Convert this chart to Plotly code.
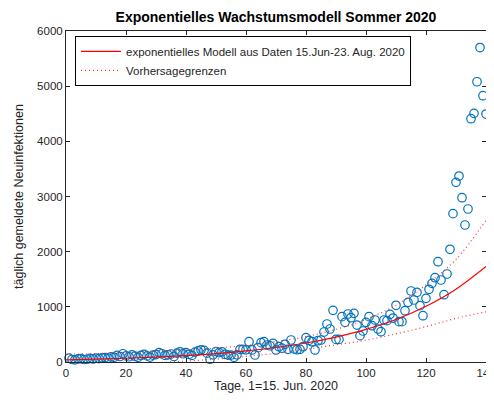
import plotly.graph_objects as go

# ---- data ----
days = list(range(1, 141))
cases = [
    70, 45, 40, 55, 60, 45, 50, 65, 55, 70,
    60, 75, 80, 70, 95, 85, 120, 100, 150, 110,
    95, 130, 105, 85, 120, 140, 110, 90, 125, 135,
    170, 150, 120, 130, 145, 100, 160, 185, 150, 170,
    140, 120, 180, 200, 220, 210, 160, 50, 130, 190,
    170, 185, 140, 125, 125, 85, 130, 230, 230, 220,
    368, 218, 127, 260, 350, 368, 308, 295, 339, 218,
    277, 250, 321, 230, 399, 236, 223, 230, 277, 441,
    393, 368, 218, 386, 399, 544, 689, 598, 937, 410,
    410, 822, 719, 870, 803, 882, 670, 477, 562, 719,
    822, 658, 761, 598, 549, 761, 749, 864, 797, 1028,
    731, 731, 930, 1082, 1287, 1124, 1263, 1021, 839, 1154,
    1318, 1426, 1528, 1818, 1486, 1220, 1595, 2043, 2689, 3257,
    3371, 2978, 2483, 2773, 4410, 4508, 5080, 5700, 4827, 4495,
]

fit_days = [0, 10, 20, 30, 40, 50, 60, 70, 80, 90, 100, 110, 120, 130, 140]
model = [40, 52, 68, 89, 117, 153, 201, 263, 345, 452, 590, 770, 1010, 1320, 1730]
upper = [140, 152, 168, 189, 217, 253, 301, 368, 460, 592, 772, 1030, 1400, 1860, 2570]
lower = [-60, -48, -32, -11, 17, 53, 101, 158, 230, 312, 395, 510, 640, 790, 910]

x_ticks = [0, 20, 40, 60, 80, 100, 120, 140]
y_ticks = [0, 1000, 2000, 3000, 4000, 5000, 6000]

title_text = "Exponentielles Wachstumsmodell Sommer 2020"
x_label = "Tage, 1=15. Jun. 2020"
y_label = "täglich gemeldete Neuinfektionen"
name_model = "exponentielles Modell aus Daten 15.Jun-23. Aug. 2020"
name_bounds = "Vorhersagegrenzen"

FONT = "Liberation Sans, Arial, sans-serif"
AX = "#262626"

# page body has an 8px margin; figure is sized so the plot lands where the reference has it
W, H = 486, 395
ML, MR, MT, MB = 58, 8, 23, 41

fig = go.Figure()
fig.add_trace(go.Scatter(
    x=days, y=cases, mode="markers", showlegend=False, cliponaxis=False,
    marker=dict(symbol="circle-open", size=8.5, color="#0072BD",
                line=dict(width=1.2, color="#0072BD")),
))
fig.add_trace(go.Scatter(
    x=fit_days, y=model, mode="lines", name=name_model,
    line=dict(color="#FF0000", width=1.2, shape="spline"),
))
fig.add_trace(go.Scatter(
    x=fit_days, y=upper, mode="lines", name=name_bounds, legendgroup="b",
    line=dict(color="#FF3030", width=1.2, dash="1px,3px", shape="spline"),
))
fig.add_trace(go.Scatter(
    x=fit_days, y=lower, mode="lines", name=name_bounds, legendgroup="b",
    showlegend=False,
    line=dict(color="#FF3030", width=1.2, dash="1px,3px", shape="spline"),
))

axis_common = dict(
    showgrid=False, zeroline=False, showline=True, linecolor=AX, linewidth=1,
    mirror="ticks", ticks="inside", ticklen=4, tickcolor=AX, tickwidth=1,
    tickfont=dict(family=FONT, size=11.5, color=AX), automargin=False,
    ticklabeloverflow="allow",
)

fig.update_layout(
    width=W, height=H,
    margin=dict(l=ML, r=MR, t=MT, b=MB),
    paper_bgcolor="white", plot_bgcolor="white",
    font=dict(family=FONT, color=AX),
    title=dict(text="<b>" + title_text + "</b>", x=(ML + W - MR) / 2 / W,
               xanchor="center", y=1 - 9 / H, yanchor="middle",
               yref="container", font=dict(family=FONT, size=14, color="black")),
    xaxis=dict(range=[0, 140], tickvals=x_ticks,
               title=dict(text=x_label, standoff=3,
                          font=dict(family=FONT, size=12.5, color=AX)),
               **axis_common),
    yaxis=dict(range=[0, 6000], tickvals=y_ticks,
               title=dict(text=y_label, standoff=10,
                          font=dict(family=FONT, size=12.5, color=AX)),
               **axis_common),
    legend=dict(x=0.0214, y=0.985, xanchor="left", yanchor="top",
                bordercolor="black", borderwidth=1, bgcolor="white",
                font=dict(family=FONT, size=11.5, color=AX),
                itemwidth=40, tracegroupgap=0),
    showlegend=True,
)

fig.write_html("out.html")
